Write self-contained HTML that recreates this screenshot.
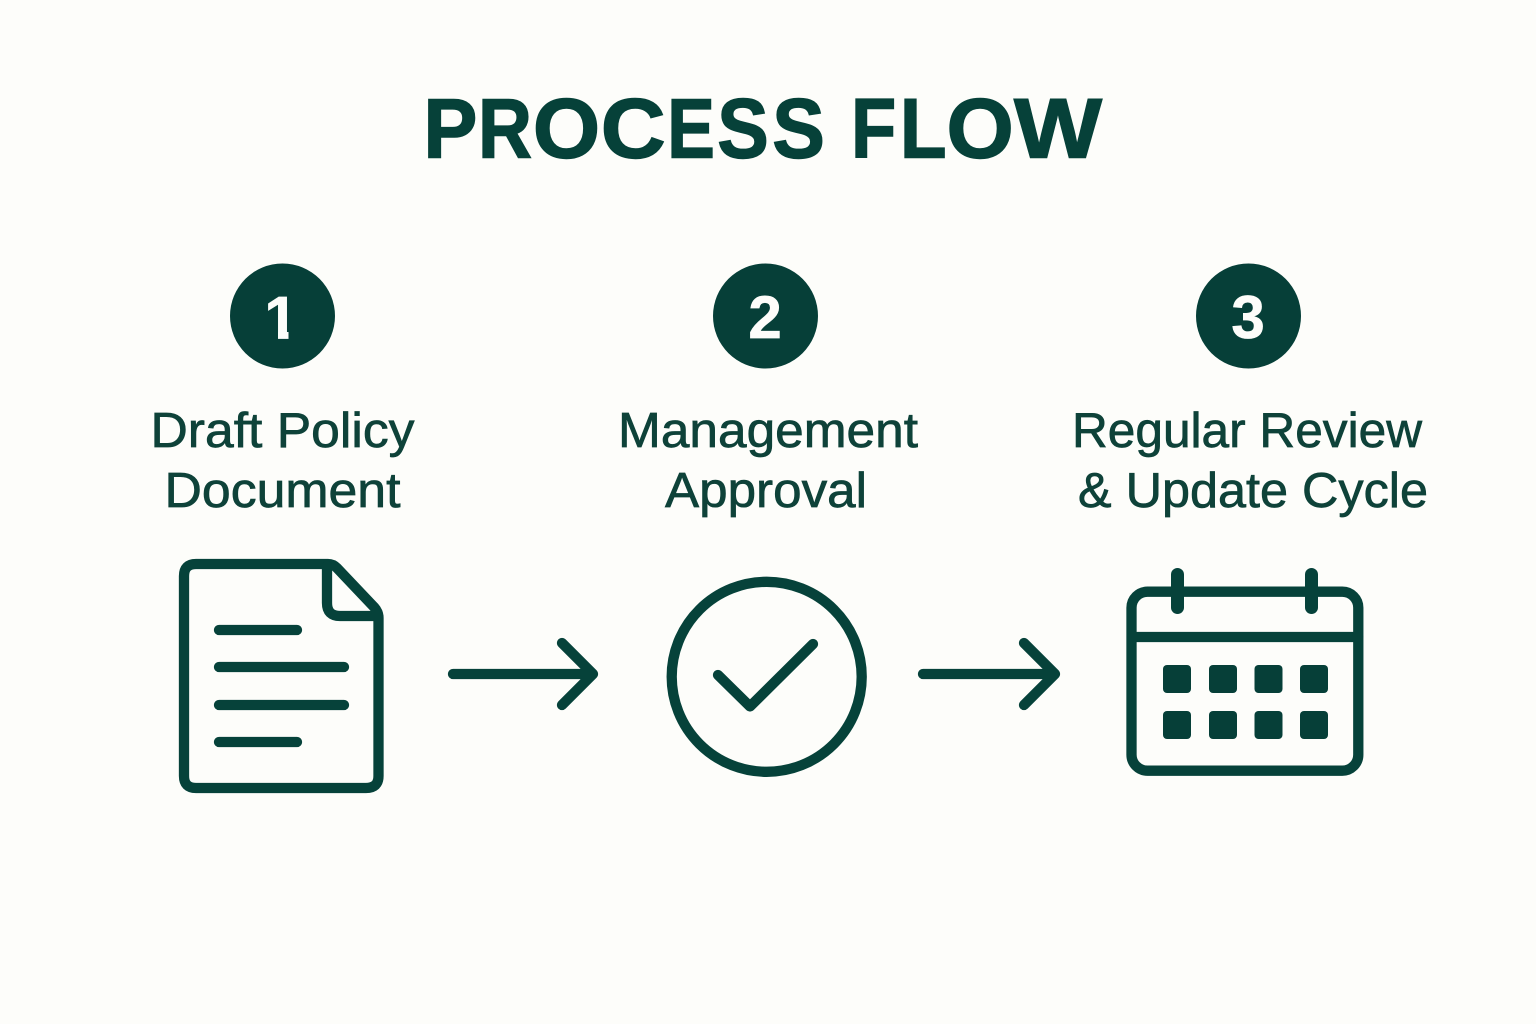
<!DOCTYPE html>
<html><head><meta charset="utf-8">
<style>
html,body{margin:0;padding:0;background:#fdfdfa}
svg{display:block}
text{font-family:"Liberation Sans",sans-serif;fill:#0e4239}
</style></head>
<body>
<svg width="1536" height="1024" viewBox="0 0 1536 1024" xmlns="http://www.w3.org/2000/svg">
<rect width="1536" height="1024" fill="#fdfdfa"/>
<text font-size="84" font-weight="700" y="157.500" lengthAdjust="spacingAndGlyphs" style="fill:#064139;stroke:#064139;stroke-width:1.400"><tspan x="423.400" y="157.500" textLength="54" lengthAdjust="spacingAndGlyphs">P</tspan><tspan x="478" y="157.500" textLength="54" lengthAdjust="spacingAndGlyphs">R</tspan><tspan x="532.900" y="157.500" textLength="67.300" lengthAdjust="spacingAndGlyphs">O</tspan><tspan x="600.800" y="157.500" textLength="64.900" lengthAdjust="spacingAndGlyphs">C</tspan><tspan x="667.200" y="157.500" textLength="47.600" lengthAdjust="spacingAndGlyphs">E</tspan><tspan x="717.200" y="157.500" textLength="51.500" lengthAdjust="spacingAndGlyphs">S</tspan><tspan x="772.200" y="157.500" textLength="52.600" lengthAdjust="spacingAndGlyphs">S</tspan> <tspan x="851" y="157.500" textLength="45.200" lengthAdjust="spacingAndGlyphs">F</tspan><tspan x="899.900" y="157.500" textLength="46.700" lengthAdjust="spacingAndGlyphs">L</tspan><tspan x="946.500" y="157.500" textLength="67.300" lengthAdjust="spacingAndGlyphs">O</tspan><tspan x="1014" y="157.500" textLength="88" lengthAdjust="spacingAndGlyphs">W</tspan></text>

<circle cx="282.500" cy="316" r="52.500" fill="#063f38"/>
<circle cx="765.500" cy="316" r="52.500" fill="#063f38"/>
<circle cx="1248.500" cy="316" r="52.500" fill="#063f38"/>
<g font-size="60" font-weight="700" text-anchor="middle" style="stroke:#fdfdfa;stroke-width:0.700">
<text x="281" y="338.500" style="fill:#fdfdfa">1</text>
<text x="765" y="338" style="fill:#fdfdfa">2</text>
<text x="1248" y="338" style="fill:#fdfdfa">3</text>
</g>
<rect x="262" y="329" width="16" height="12" fill="#063f38"/>
<rect x="288.500" y="329" width="14" height="12" fill="#063f38"/>

<g font-size="49" text-anchor="middle" style="stroke:#0e4239;stroke-width:0.7">
<text x="282.500" y="447" textLength="264" lengthAdjust="spacingAndGlyphs">Draft Policy</text>
<text x="282.500" y="507" textLength="236" lengthAdjust="spacingAndGlyphs">Document</text>
<text x="768" y="447" textLength="300" lengthAdjust="spacingAndGlyphs">Management</text>
<text x="766" y="507" textLength="202" lengthAdjust="spacingAndGlyphs">Approval</text>
<text x="1247" y="447" textLength="350" lengthAdjust="spacingAndGlyphs">Regular Review</text>
<text x="1253" y="507" textLength="350" lengthAdjust="spacingAndGlyphs">&amp; Update Cycle</text>
</g>

<g fill="none" stroke="#06423a" stroke-width="10.300" stroke-linecap="round" stroke-linejoin="round">
<path d="M328 564H196Q184 564 184 576V776Q184 788 196 788H366Q378.500 788 378.500 776V618Q378.500 612 374 607L337 568Q333 564 328 564Z"/>
<path d="M327 566V603Q327 616 340 616H378"/>
<path d="M219 630H297M219 667H344M219 705H344M219 742H297"/>
<path d="M453 674H592M562 643L593 674L562 705"/>
<circle cx="766.700" cy="676.800" r="95"/>
<path d="M718 675L750 706.500L813 644"/>
<path d="M923 674H1054M1024 643L1055 674L1024 705"/>
<rect x="1131.500" y="591.700" width="226.800" height="179" rx="16"/>
<path d="M1132 637H1358"/>
<path d="M1177.500 574.500V607.500M1311.500 574.500V607.500" stroke-width="13"/>
</g>
<g fill="#063f38">
<rect x="1163" y="665" width="28" height="28" rx="4"/>
<rect x="1209" y="665" width="28" height="28" rx="4"/>
<rect x="1254.500" y="665" width="28" height="28" rx="4"/>
<rect x="1300" y="665" width="28" height="28" rx="4"/>
<rect x="1163" y="711" width="28" height="28" rx="4"/>
<rect x="1209" y="711" width="28" height="28" rx="4"/>
<rect x="1254.500" y="711" width="28" height="28" rx="4"/>
<rect x="1300" y="711" width="28" height="28" rx="4"/>
</g>
</svg>
</body></html>
